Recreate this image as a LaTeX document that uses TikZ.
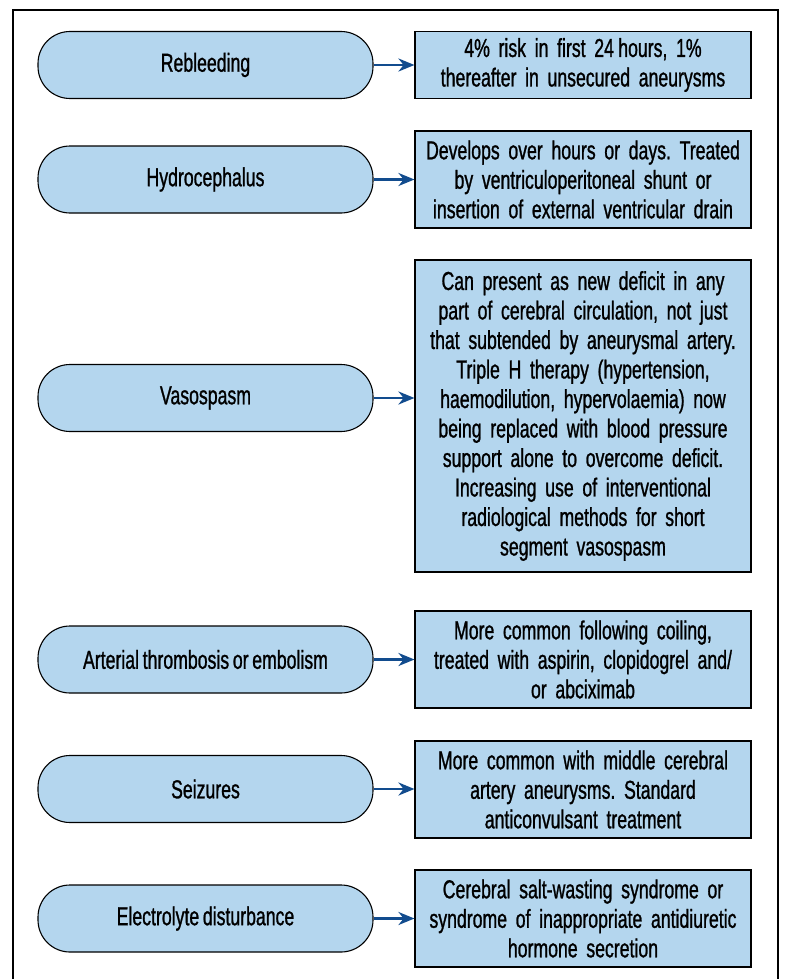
\documentclass[tikz,border=0pt]{standalone}
\usepackage{fontspec}
\setmainfont[FakeStretch=0.68,FakeBold=1,WordSpace=0.75]{Liberation Sans}
\usetikzlibrary{arrows.meta}
\definecolor{paleblue}{HTML}{B4D6EE}
\definecolor{arrowblue}{HTML}{124C8E}
\tikzstyle{pill}=[draw, fill=paleblue, line width=1.1pt, rounded corners=32pt,
  minimum width=335pt, minimum height=67pt, align=center]
\tikzstyle{note}=[draw, fill=paleblue, line width=1.1pt, text width=328pt,
  minimum width=336pt, inner sep=4pt, align=center]
\tikzstyle{link}=[draw=arrowblue, line width=2.8pt, -{Stealth[length=16pt,width=13pt]}]
\newcommand{\cond}{\node[pill]}
\newcommand{\comp}{\node[note]}

\begin{document}
\frenchspacing
\begin{tikzpicture}[x=1pt, y=-1pt, font=\fontsize{26}{29.5}\selectfont]
\useasboundingbox (0,0) rectangle (787,979);
\draw[line width=1.2pt] (13,995) |- (778,10) -- (778,995);

\cond (p1) at (205.5,65) {Rebleeding};
\cond (p2) at (205.5,179.5) {Hydrocephalus};
\cond (p3) at (205.5,398) {Vasospasm};
\cond (p4) at (205.5,659.5) {Arterial thrombosis or embolism};
\cond (p5) at (205.5,789) {Seizures};
\cond (p6) at (205.5,918.5) {Electrolyte disturbance};

\comp[minimum height=67pt] (b1) at (583,65)
  {4\% risk in first 24\,hours, 1\%\\ thereafter in unsecured aneurysms};
\comp[minimum height=97pt] (b2) at (583,179.5)
  {Develops over hours or days. Treated\\ by ventriculoperitoneal shunt or\\ insertion of external ventricular drain};
\comp[minimum height=312pt] (b3) at (583,416)
  {Can present as new deficit in any\\ part of cerebral circulation, not just\\ that subtended by aneurysmal artery.\\
   Triple H therapy (hypertension,\\ haemodilution, hypervolaemia) now\\ being replaced with blood pressure\\
   support alone to overcome deficit.\\ Increasing use of interventional\\ radiological methods for short\\ segment vasospasm};
\comp[minimum height=97pt] (b4) at (583,659.5)
  {More common following coiling,\\ treated with aspirin, clopidogrel and/\\ or abciximab};
\comp[minimum height=97pt] (b5) at (583,789.5)
  {More common with middle cerebral\\ artery aneurysms. Standard\\ anticonvulsant treatment};
\comp[minimum height=97pt] (b6) at (583,918.5)
  {Cerebral salt-wasting syndrome or\\ syndrome of inappropriate antidiuretic\\ hormone secretion};

\foreach \i in {1,...,6}
  \draw[link] (p\i.east) -- (p\i.east -| b\i.west);
\end{tikzpicture}
\end{document}
